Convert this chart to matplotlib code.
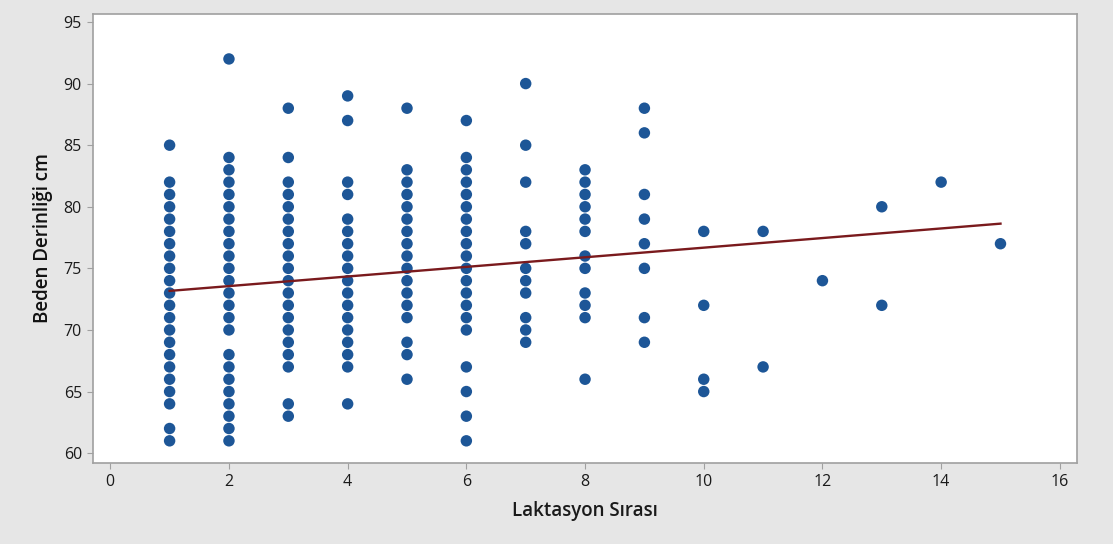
import matplotlib
matplotlib.use("Agg")
import matplotlib.pyplot as plt
import numpy as np

# Beden derinligi (cm) per laktasyon sirasi
depth_by_lact = {
    1: [85, 82, 81, 80, 79, 78, 77, 76, 75, 74, 73, 72, 71, 70, 69, 68, 67, 66, 65, 64, 62, 61],
    2: [92, 84, 83, 82, 81, 80, 79, 78, 77, 76, 75, 74, 73, 72, 71, 70, 68, 67, 66, 65, 64, 63, 62, 61],
    3: [88, 84, 82, 81, 80, 79, 78, 77, 76, 75, 74, 73, 72, 71, 70, 69, 68, 67, 64, 63],
    4: [89, 87, 82, 81, 79, 78, 77, 76, 75, 74, 73, 72, 71, 70, 69, 68, 67, 64],
    5: [88, 83, 82, 81, 80, 79, 78, 77, 76, 75, 74, 73, 72, 71, 69, 68, 66],
    6: [87, 84, 83, 82, 81, 80, 79, 78, 77, 76, 75, 74, 73, 72, 71, 70, 67, 65, 63, 61],
    7: [90, 85, 82, 78, 77, 75, 74, 73, 71, 70, 69],
    8: [83, 82, 81, 80, 79, 78, 76, 75, 73, 72, 71, 66],
    9: [88, 86, 81, 79, 77, 75, 71, 69],
    10: [78, 72, 66, 65],
    11: [78, 67],
    12: [74],
    13: [80, 72],
    14: [82],
    15: [77],
}

# fitted line as drawn on the chart
fit_intercept = 72.78
fit_slope = 0.39
fit_x = [1, 15]

x_ticks = [0, 2, 4, 6, 8, 10, 12, 14, 16]
y_ticks = [60, 65, 70, 75, 80, 85, 90, 95]

xs = []
ys = []
for k, vals in depth_by_lact.items():
    xs += [k] * len(vals)
    ys += vals

plt.rcParams['font.family'] = ['Open Sans', 'DejaVu Sans']

fig = plt.figure(figsize=(11.13, 5.44), dpi=100, facecolor='#e6e6e6')
ax = fig.add_axes([0.0836, 0.1489, 0.8841, 0.8254])
ax.set_facecolor('white')

ax.scatter(xs, ys, s=68, color='#1d5697', edgecolors='none', zorder=3)
line_x = np.array(fit_x)
ax.plot(line_x, fit_intercept + fit_slope * line_x, color='#7a1a1d', lw=1.7, zorder=4)

ax.set_xlim(-0.29, 16.29)
ax.set_ylim(59.2, 95.65)
ax.set_xticks(x_ticks)
ax.set_yticks(y_ticks)
ax.tick_params(axis='both', direction='out', length=4, width=0.8, color='#a0a0a0',
               labelsize=11.5, labelcolor='#1a1a1a', pad=4)

for sp in ax.spines.values():
    sp.set_color('#a0a0a0')
    sp.set_linewidth(1.2)

ax.set_xlabel('Laktasyon Sırası', fontsize=13.5, color='#1a1a1a', fontweight='semibold', labelpad=8)
ax.set_ylabel('Beden Derinliği cm', fontsize=13.5, color='#111111', fontweight='semibold', labelpad=8)

fig.savefig('out.png', dpi=100, facecolor=fig.get_facecolor())
